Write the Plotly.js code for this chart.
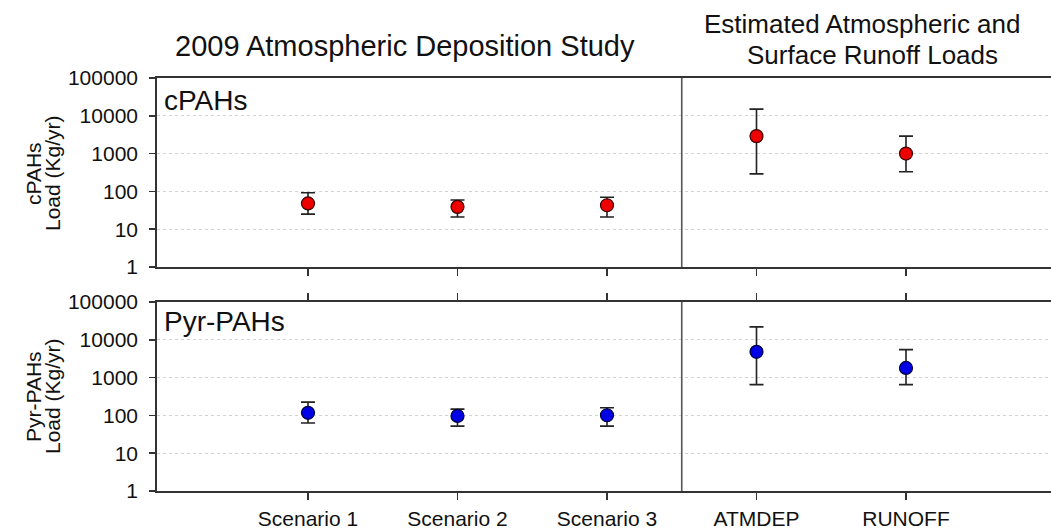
<!DOCTYPE html>
<html>
<head>
<meta charset="utf-8">
<script src="https://cdn.plot.ly/plotly-3.0.1.min.js"></script>
<style>html,body{margin:0;padding:0;background:#fff;}#chart{width:1051px;height:531px;}</style>
</head>
<body>
<div id="chart"></div>
<script>
// ---- data ----
var categories = ['Scenario 1', 'Scenario 2', 'Scenario 3', 'ATMDEP', 'RUNOFF'];
var cpahMean = [48, 39, 43, 2900, 1000];
var cpahLow  = [25, 21, 21, 290, 330];
var cpahHigh = [92, 59, 70, 15000, 2900];
var pyrMean  = [117, 97, 101, 4800, 1800];
var pyrLow   = [63, 52, 52, 650, 650];
var pyrHigh  = [225, 147, 160, 22000, 5500];
var yTickVals = [1, 10, 100, 1000, 10000, 100000];
var yTickText = ['1', '10', '100', '1000', '10000', '100000'];
var mainTitle = '2009 Atmospheric Deposition Study';
var sideTitle1 = 'Estimated Atmospheric and';
var sideTitle2 = 'Surface Runoff Loads';
var panelTop = 'cPAHs';
var panelBottom = 'Pyr-PAHs';
var unitLabel = 'Load (Kg/yr)';

// ---- layout helpers ----
var W = 1051, H = 531, ML = 157, MR = 0, MT = 78, MB = 40;
var PW = W - ML - MR, PH = H - MT - MB;
function px(x) { return (x - ML) / PW; }
function py(y) { return (MT + PH - y) / PH; }

function diffUp(m, h) { return m.map(function (v, i) { return h[i] - v; }); }
function diffDown(m, l) { return m.map(function (v, i) { return v - l[i]; }); }

var FONT = '"Liberation Sans", Arial, Helvetica, sans-serif';
var TXT = '#111111';

var traces = [
  {
    x: categories, y: cpahMean, xaxis: 'x2', yaxis: 'y2',
    type: 'scatter', mode: 'markers',
    marker: { color: '#ee0000', size: 13, line: { color: '#3a0000', width: 1.2 } },
    error_y: { type: 'data', symmetric: false,
      array: diffUp(cpahMean, cpahHigh), arrayminus: diffDown(cpahMean, cpahLow),
      color: '#222222', thickness: 1.6, width: 7 },
    hoverinfo: 'x+y', showlegend: false
  },
  {
    x: categories, y: pyrMean, xaxis: 'x', yaxis: 'y',
    type: 'scatter', mode: 'markers',
    marker: { color: '#0000e6', size: 13, line: { color: '#00003a', width: 1.2 } },
    error_y: { type: 'data', symmetric: false,
      array: diffUp(pyrMean, pyrHigh), arrayminus: diffDown(pyrMean, pyrLow),
      color: '#222222', thickness: 1.6, width: 7 },
    hoverinfo: 'x+y', showlegend: false
  }
];

var xRange = [-1.01, 4.97];
var yAxisCommon = {
  type: 'log', range: [0, 5], tickvals: yTickVals, ticktext: yTickText,
  ticks: 'outside', ticklen: 6, tickwidth: 1.5, tickcolor: '#333',
  showline: true, linecolor: '#333', linewidth: 1.8, mirror: false,
  showgrid: true, gridcolor: '#d2d2d2', gridwidth: 1, griddash: 'dot',
  zeroline: false, ticklabelstandoff: 7,
  tickfont: { family: FONT, size: 21, color: TXT }, automargin: false, fixedrange: true
};
var topDomain = [py(267), 1];
var botDomain = [0, py(302)];

var layout = {
  width: W, height: H,
  margin: { l: ML, r: MR, t: MT, b: MB, pad: 0 },
  paper_bgcolor: '#ffffff', plot_bgcolor: '#ffffff',
  font: { family: FONT, color: TXT },
  showlegend: false,
  xaxis: {
    type: 'category', range: xRange, anchor: 'y',
    ticks: 'outside', ticklen: 7, tickwidth: 1.5, tickcolor: '#333',
    showline: true, linecolor: '#333', linewidth: 1.8, mirror: 'ticks',
    showgrid: false, zeroline: false, ticklabelstandoff: 1,
    tickfont: { family: FONT, size: 21, color: TXT }, automargin: false, fixedrange: true
  },
  xaxis2: {
    type: 'category', range: xRange, anchor: 'y2', matches: 'x',
    ticks: 'outside', ticklen: 7, tickwidth: 1.5, tickcolor: '#333',
    showline: true, linecolor: '#333', linewidth: 1.8, mirror: true,
    showgrid: false, zeroline: false, showticklabels: false, automargin: false, fixedrange: true
  },
  yaxis: Object.assign({}, yAxisCommon, { domain: botDomain, anchor: 'x' }),
  yaxis2: Object.assign({}, yAxisCommon, { domain: topDomain, anchor: 'x2' }),
  shapes: [
    { type: 'line', xref: 'x2', yref: 'y2 domain', x0: 2.5, x1: 2.5, y0: 0, y1: 1,
      line: { color: '#555555', width: 1.6 } },
    { type: 'line', xref: 'x', yref: 'y domain', x0: 2.5, x1: 2.5, y0: 0, y1: 1,
      line: { color: '#555555', width: 1.6 } }
  ],
  annotations: [
    { text: mainTitle, xref: 'paper', yref: 'paper', x: px(405), y: py(46),
      xanchor: 'center', yanchor: 'middle', showarrow: false,
      font: { family: FONT, size: 29, color: TXT } },
    { text: sideTitle1, xref: 'paper', yref: 'paper', x: px(862), y: py(24),
      xanchor: 'center', yanchor: 'middle', showarrow: false,
      font: { family: FONT, size: 26, color: TXT } },
    { text: sideTitle2, xref: 'paper', yref: 'paper', x: px(872), y: py(55),
      xanchor: 'center', yanchor: 'middle', showarrow: false,
      font: { family: FONT, size: 26, color: TXT } },
    { text: panelTop, xref: 'paper', yref: 'paper', x: px(162), y: py(100),
      xanchor: 'left', yanchor: 'middle', showarrow: false,
      font: { family: FONT, size: 28, color: TXT } },
    { text: panelBottom, xref: 'paper', yref: 'paper', x: px(162), y: py(321),
      xanchor: 'left', yanchor: 'middle', showarrow: false,
      font: { family: FONT, size: 28, color: TXT } },
    { text: panelTop, xref: 'paper', yref: 'paper', x: px(33), y: py(173), textangle: -90,
      xanchor: 'center', yanchor: 'middle', showarrow: false,
      font: { family: FONT, size: 21, color: TXT } },
    { text: unitLabel, xref: 'paper', yref: 'paper', x: px(52), y: py(173), textangle: -90,
      xanchor: 'center', yanchor: 'middle', showarrow: false,
      font: { family: FONT, size: 21, color: TXT } },
    { text: panelBottom, xref: 'paper', yref: 'paper', x: px(33), y: py(396), textangle: -90,
      xanchor: 'center', yanchor: 'middle', showarrow: false,
      font: { family: FONT, size: 21, color: TXT } },
    { text: unitLabel, xref: 'paper', yref: 'paper', x: px(52), y: py(396), textangle: -90,
      xanchor: 'center', yanchor: 'middle', showarrow: false,
      font: { family: FONT, size: 21, color: TXT } }
  ]
};

Plotly.newPlot('chart', traces, layout, { displayModeBar: false, staticPlot: true });
</script>
</body>
</html>
